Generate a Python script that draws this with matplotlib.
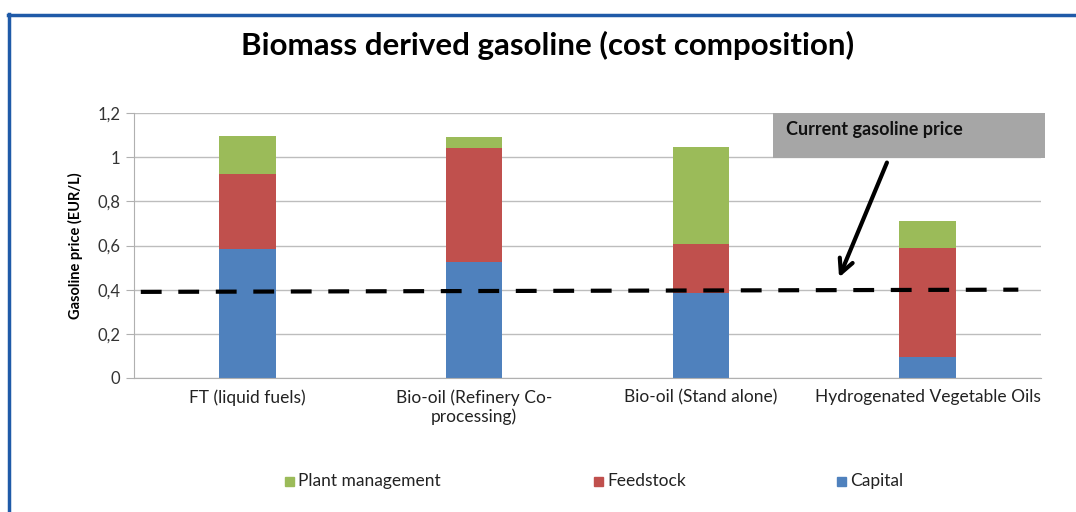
import numpy as np
import matplotlib.pyplot as plt
from matplotlib.lines import Line2D
from matplotlib.patches import Rectangle

categories = ["FT (liquid fuels)", "Bio-oil (Refinery Co-\nprocessing)",
              "Bio-oil (Stand alone)", "Hydrogenated Vegetable Oils"]
capital = [0.584, 0.525, 0.384, 0.095]
feedstock = [0.340, 0.516, 0.223, 0.495]
plant_mgmt = [0.172, 0.050, 0.438, 0.121]
gasoline_line_x = [-0.47, 3.40]
gasoline_line_y = [0.390, 0.400]
yticks = [0, 0.2, 0.4, 0.6, 0.8, 1.0, 1.2]
ytick_labels = ["0", "0,2", "0,4", "0,6", "0,8", "1", "1,2"]

plt.rcParams['font.family'] = ['Lato', 'DejaVu Sans']

fig = plt.figure(figsize=(10.76, 5.12), dpi=100)
ax = fig.add_axes([134 / 1076, 1 - 378 / 512, 907 / 1076, 265 / 512])

x = np.arange(len(categories))
w = 0.25
c_cap, c_feed, c_plant = "#4F81BD", "#C0504D", "#9BBB59"
ax.bar(x, capital, w, color=c_cap, label="Capital", zorder=2)
ax.bar(x, feedstock, w, bottom=capital, color=c_feed, label="Feedstock", zorder=2)
bottom2 = np.array(capital) + np.array(feedstock)
ax.bar(x, plant_mgmt, w, bottom=bottom2, color=c_plant, label="Plant management", zorder=2)

ax.set_xlim(-0.5, 3.5)
ax.set_ylim(0, 1.2)
ax.set_yticks(yticks)
ax.set_yticklabels(ytick_labels, fontsize=12, color="#333333")
ax.set_xticks(x)
ax.set_xticklabels(categories, fontsize=12.5, color="#222222")
ax.tick_params(axis='x', length=0, pad=8)
ax.tick_params(axis='y', length=6, color="#b0b0b0", pad=4)
ax.grid(True, axis='y', color="#bdbdbd", linewidth=1)
ax.set_axisbelow(True)
for s in ['top', 'right']:
    ax.spines[s].set_visible(False)
ax.spines['left'].set_color("#b0b0b0")
ax.spines['bottom'].set_color("#b0b0b0")
ax.set_ylabel("Gasoline price (EUR/L)", fontsize=10.5, fontweight='bold', labelpad=10)

# current gasoline price dashed line
ax.plot(gasoline_line_x, gasoline_line_y, color="black", linewidth=3,
        linestyle=(0, (5, 4)), clip_on=False, zorder=4)

# gray callout box
box = Rectangle((773 / 1076, 1 - 158 / 512), 272 / 1076, 45 / 512,
                transform=fig.transFigure, facecolor="#A6A6A6", edgecolor="none", zorder=5)
fig.add_artist(box)
fig.text(786 / 1076, 1 - 130 / 512, "Current gasoline price", fontsize=13,
         fontweight='bold', color="#111111", va='center', ha='left', zorder=6)
ax.annotate("", xy=(838 / 1076, 1 - 280 / 512), xytext=(888 / 1076, 1 - 160 / 512),
            xycoords='figure fraction', textcoords='figure fraction',
            arrowprops=dict(arrowstyle='->', color='black', lw=3, mutation_scale=25))

fig.text(548 / 1076, 1 - 45 / 512, "Biomass derived gasoline (cost composition)",
         fontsize=22.5, fontweight='bold', ha='center', va='center')

colors = [c_plant, c_feed, c_cap]
labels = ["Plant management", "Feedstock", "Capital"]
legend_x = [285, 594, 837]
for col, lab, lx in zip(colors, labels, legend_x):
    fig.patches.append(Rectangle((lx / 1076, 1 - 486 / 512), 9 / 1076, 9 / 512,
                                 transform=fig.transFigure, color=col))
    fig.text((lx + 13) / 1076, 1 - 481 / 512, lab, fontsize=12.5, va='center', ha='left',
             color="#222222")

# blue frame
fig.add_artist(Line2D([8 / 1076, 1], [1 - 15 / 512, 1 - 15 / 512], transform=fig.transFigure,
                      color="#1F5AA8", linewidth=2.5))
fig.add_artist(Line2D([9 / 1076, 9 / 1076], [0, 1 - 14 / 512], transform=fig.transFigure,
                      color="#1F5AA8", linewidth=2.5))

fig.savefig("out.png", dpi=100)
